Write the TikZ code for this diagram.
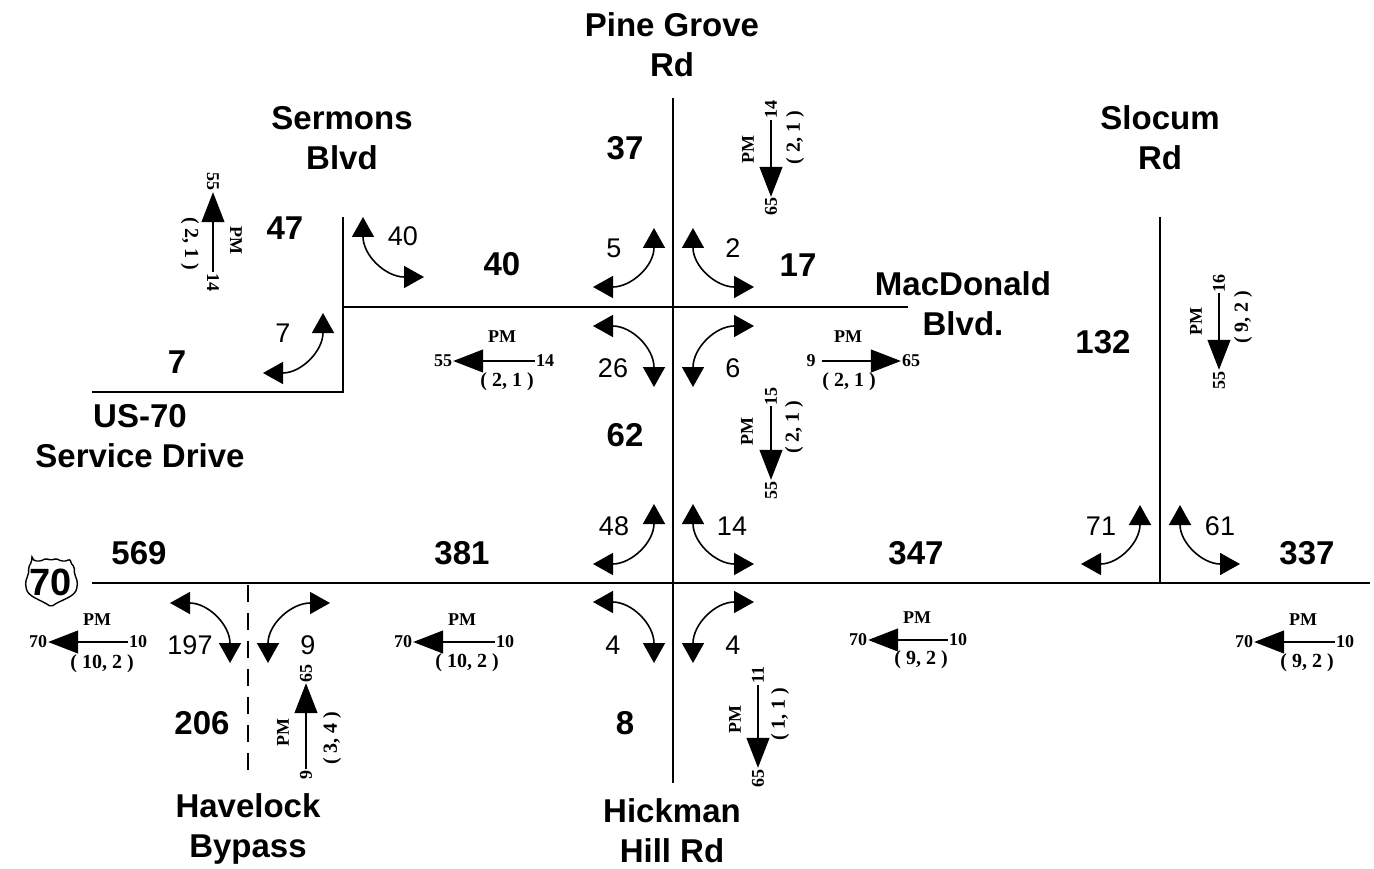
\documentclass[tikz,border=0pt]{standalone}
\usepackage{fontspec}
\setmainfont{Liberation Sans}
\newfontfamily\flowfont{Liberation Serif}
\usetikzlibrary{arrows.meta}

\begin{document}
\begin{tikzpicture}[
  x=1pt,y=-1pt,
  road/.style={line width=2.9pt,draw=black,line join=miter},
  bypass/.style={line width=1.4pt,dash pattern=on 17pt off 11pt},
  roadname/.style={align=center,font=\fontsize{33}{40}\selectfont\bfseries,inner sep=0pt},
  volume/.style={font=\fontsize{33}{36}\selectfont\bfseries,inner sep=0pt},
  turnlabel/.style={font=\fontsize{27}{30}\selectfont,inner sep=0pt},
  flowlabel/.style={font=\fontsize{18}{20}\selectfont\flowfont\bfseries,inner sep=1pt},
  flowup/.style={flowlabel,rotate=90},
  flowdown/.style={flowlabel,rotate=-90},
  loslabel/.style={flowlabel,font=\fontsize{20}{22}\selectfont\flowfont\bfseries},
  turn/.style={{Triangle[length=20pt,width=22pt]}-{Triangle[length=20pt,width=22pt]},line width=1.6pt,looseness=1.15},
  flow/.style={-{Triangle[length=30pt,width=23pt]},line width=1.2pt}
]
\useasboundingbox (0,0) rectangle (1374,869);

% roads
\coordinate (pinetop) at (673,98);
\coordinate (hickmanend) at (673,783);
\coordinate (macwest) at (343,307);
\coordinate (maceast) at (908,307);
\coordinate (sermonstop) at (343,217);
\coordinate (sermonscorner) at (343,392);
\coordinate (servicewest) at (92,392);
\coordinate (slocumtop) at (1160,217);
\coordinate (slocumend) at (1160,583);
\coordinate (us70west) at (92,583);
\coordinate (us70east) at (1370,583);
\coordinate (bypasstop) at (248,585);
\coordinate (bypassend) at (248,775);
\draw[road] (pinetop) -- (hickmanend);
\draw[road] (macwest) -- (maceast);
\draw[road] (sermonstop) -- (sermonscorner) -- (servicewest);
\draw[road,line width=2.1pt] (slocumtop) -- (slocumend);
\draw[road] (us70west) -- (us70east);
\draw[bypass] (bypasstop) -- (bypassend);

% shield
\node[font=\fontsize{38}{40}\selectfont\bfseries,inner sep=0pt] (shield) at (51,582) {70};
\draw[line width=1.4pt,rounded corners=2pt] (32,559) .. controls (37,562) and (42,561) .. (46,558)
  .. controls (49,560) and (53,560) .. (56,558) .. controls (60,561) and (65,562) .. (70,559)
  .. controls (71,563) and (72,565) .. (75,567) .. controls (73,573) and (78,580) .. (77,586)
  .. controls (76,597) and (60,600) .. (51,607) .. controls (42,600) and (27,597) .. (26,586)
  .. controls (25,580) and (30,573) .. (28,567) .. controls (30,565) and (31,563) .. (32,559) -- cycle;

% road names
\node[roadname] (pinegrove) at (672,45) {Pine Grove\\Rd};
\node[roadname] (sermons) at (342,138) {Sermons\\Blvd};
\node[roadname] (slocum) at (1160,138) {Slocum\\Rd};
\node[roadname] (macdonald) at (963,304) {MacDonald\\Blvd.};
\node[roadname] (service) at (140,436) {US-70\\Service Drive};
\node[roadname] (havelock) at (248,829) {Havelock\\Bypass};
\node[roadname] (hickman) at (672,831) {Hickman\\Hill Rd};

% link volumes
\node[volume] (v37) at (625,148) {37};
\node[volume] (v40) at (502,264) {40};
\node[volume] (v17) at (798,265) {17};
\node[volume] (v47) at (285,228) {47};
\node[volume] (v7) at (177,362) {7};
\node[volume] (v132) at (1103,342) {132};
\node[volume] (v62) at (625,435) {62};
\node[volume] (v569) at (139,553) {569};
\node[volume] (v381) at (462,553) {381};
\node[volume] (v347) at (916,553) {347};
\node[volume] (v337) at (1307,553) {337};
\node[volume] (v206) at (202,723) {206};
\node[volume] (v8) at (625,723) {8};

% turn counts
\node[turnlabel] (t40) at (403,236) {40};
\node[turnlabel] (t5) at (614,248) {5};
\node[turnlabel] (t2) at (733,248) {2};
\node[turnlabel] (t7) at (283,333) {7};
\node[turnlabel] (t26) at (613,368) {26};
\node[turnlabel] (t6) at (733,368) {6};
\node[turnlabel] (t48) at (614,526) {48};
\node[turnlabel] (t14) at (732,526) {14};
\node[turnlabel] (t71) at (1101,526) {71};
\node[turnlabel] (t61) at (1220,526) {61};
\node[turnlabel] (t197) at (190,645) {197};
\node[turnlabel] (t9) at (308,645) {9};
\node[turnlabel] (t4a) at (613,645) {4};
\node[turnlabel] (t4b) at (733,645) {4};

% turn arrows
\coordinate (pnwup) at (654,228);
\coordinate (pnwleft) at (593,287);
\coordinate (pneup) at (693,228);
\coordinate (pneright) at (754,287);
\coordinate (pswleft) at (593,326);
\coordinate (pswdown) at (654,387);
\coordinate (pseright) at (754,326);
\coordinate (psedown) at (693,387);
\coordinate (hnwup) at (654,504);
\coordinate (hnwleft) at (593,564);
\coordinate (hneup) at (693,504);
\coordinate (hneright) at (754,564);
\coordinate (hswleft) at (593,602);
\coordinate (hswdown) at (654,663);
\coordinate (hseright) at (754,602);
\coordinate (hsedown) at (693,663);
\coordinate (sswup) at (323,313);
\coordinate (sswleft) at (263,373);
\coordinate (sneup) at (363,217);
\coordinate (sneright) at (424,277);
\coordinate (lnwup) at (1140,505);
\coordinate (lnwleft) at (1081,564);
\coordinate (lneup) at (1180,505);
\coordinate (lneright) at (1240,564);
\coordinate (bswleft) at (170,603);
\coordinate (bswdown) at (230,663);
\coordinate (bseright) at (330,603);
\coordinate (bsedown) at (268,663);
\draw[turn] (pnwup) to[out=-90,in=0] (pnwleft);
\draw[turn] (pneup) to[out=-90,in=180] (pneright);
\draw[turn] (pswleft) to[out=0,in=90] (pswdown);
\draw[turn] (pseright) to[out=180,in=90] (psedown);
\draw[turn] (hnwup) to[out=-90,in=0] (hnwleft);
\draw[turn] (hneup) to[out=-90,in=180] (hneright);
\draw[turn] (hswleft) to[out=0,in=90] (hswdown);
\draw[turn] (hseright) to[out=180,in=90] (hsedown);
\draw[turn] (sswup) to[out=-90,in=0] (sswleft);
\draw[turn] (sneup) to[out=-90,in=180] (sneright);
\draw[turn] (lnwup) to[out=-90,in=0] (lnwleft);
\draw[turn] (lneup) to[out=-90,in=180] (lneright);
\draw[turn] (bswleft) to[out=0,in=90] (bswdown);
\draw[turn] (bseright) to[out=180,in=90] (bsedown);

% horizontal flows
\node[flowlabel] (a10) at (138,642) {10};
\node[flowlabel] (a70) at (38,642) {70};
\node[flowlabel] (apm) at (97,620) {PM};
\node[loslabel] (alos) at (102,664) {( 10, 2 )};
\draw[flow] (a10) -- (a70);
\node[flowlabel] (b10) at (505,642) {10};
\node[flowlabel] (b70) at (403,642) {70};
\node[flowlabel] (bpm) at (462,620) {PM};
\node[loslabel] (blos) at (467,663) {( 10, 2 )};
\draw[flow] (b10) -- (b70);
\node[flowlabel] (c10) at (958,640) {10};
\node[flowlabel] (c70) at (858,640) {70};
\node[flowlabel] (cpm) at (917,618) {PM};
\node[loslabel] (clos) at (921,660) {( 9, 2 )};
\draw[flow] (c10) -- (c70);
\node[flowlabel] (d10) at (1345,642) {10};
\node[flowlabel] (d70) at (1244,642) {70};
\node[flowlabel] (dpm) at (1303,620) {PM};
\node[loslabel] (dlos) at (1307,663) {( 9, 2 )};
\draw[flow] (d10) -- (d70);
\node[flowlabel] (e14) at (545,361) {14};
\node[flowlabel] (e55) at (443,361) {55};
\node[flowlabel] (epm) at (502,337) {PM};
\node[loslabel] (elos) at (507,382) {( 2, 1 )};
\draw[flow] (e14) -- (e55);
\node[flowlabel] (f9) at (811,361) {9};
\node[flowlabel] (f65) at (911,361) {65};
\node[flowlabel] (fpm) at (848,337) {PM};
\node[loslabel] (flos) at (849,382) {( 2, 1 )};
\draw[flow,shorten <=5pt] (f9) -- (f65);

% vertical flows
\node[flowup] (g14) at (771,110) {14};
\node[flowup] (g65) at (771,207) {65};
\node[flowup] (gpm) at (748,150) {PM};
\node[loslabel,rotate=90] (glos) at (795,138) {( 2, 1 )};
\draw[flow] (g14) -- (g65);
\node[flowup] (h15) at (771,396) {15};
\node[flowup] (h55) at (771,490) {55};
\node[flowup] (hpm) at (747,432) {PM};
\node[loslabel,rotate=90] (hlos) at (794,427) {( 2, 1 )};
\draw[flow] (h15) -- (h55);
\node[flowup] (i16) at (1219,283) {16};
\node[flowup] (i55) at (1219,380) {55};
\node[flowup] (ipm) at (1196,322) {PM};
\node[loslabel,rotate=90] (ilos) at (1243,317) {( 9, 2 )};
\draw[flow] (i16) -- (i55);
\node[flowup] (j11) at (758,675) {11};
\node[flowup] (j65) at (758,778) {65};
\node[flowup] (jpm) at (735,720) {PM};
\node[loslabel,rotate=90] (jlos) at (780,714) {( 1, 1 )};
\draw[flow] (j11) -- (j65);
\node[flowup] (k9) at (306,775) {9};
\node[flowup] (k65) at (306,673) {65};
\node[flowup] (kpm) at (283,733) {PM};
\node[loslabel,rotate=90] (klos) at (332,738) {( 3, 4 )};
\draw[flow] (k9) -- (k65);
\node[flowdown] (m14) at (213,282) {14};
\node[flowdown] (m55) at (213,182) {55};
\node[flowdown] (mpm) at (236,240) {PM};
\node[loslabel,rotate=-90] (mlos) at (190,244) {( 2, 1 )};
\draw[flow] (m14) -- (m55);
\end{tikzpicture}
\end{document}
